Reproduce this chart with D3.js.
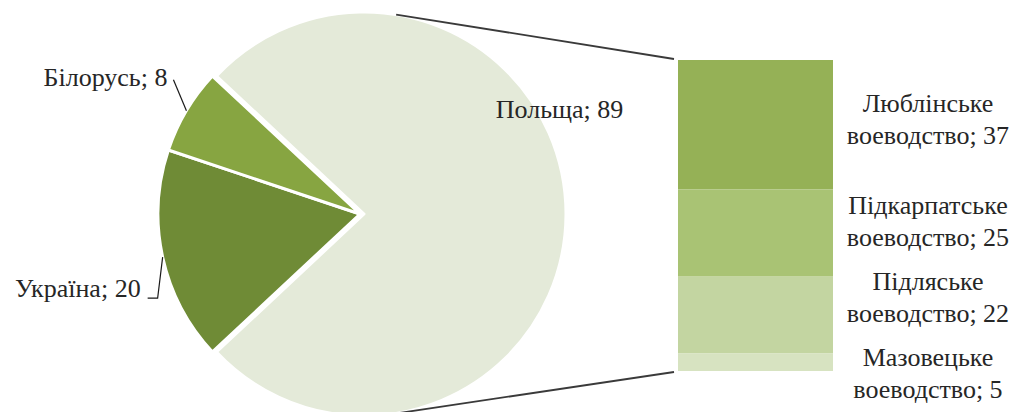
<!DOCTYPE html>
<html>
<head>
<meta charset="utf-8">
<script src="https://cdn.jsdelivr.net/npm/d3@7"></script>
<style>
  body { margin: 0; background: #fff; }
  svg { display: block; }
</style>
</head>
<body>
<svg id="chart" width="1017" height="412"></svg>
<script>
// Pie: countries (Польща is split out into the bar on the right)
const countries = ["Польща", "Україна", "Білорусь"];
const countryValues = [89, 20, 8];
const countryColors = ["#e4ead9", "#6f8b36", "#87a541"];

// Bar: regions of Польща
const regionNames = ["Люблінське", "Підкарпатське", "Підляське", "Мазовецьке"];
const regionSuffix = "воеводство";
const regionValues = [37, 25, 22, 5];
const regionColors = ["#95b156", "#a9c374", "#c3d5a1", "#d7e3c1"];

const FONT = "'Liberation Serif', 'Times New Roman', 'DejaVu Serif', serif";

const svg = d3.select("#chart")
  .attr("font-family", FONT)
  .attr("font-size", 26);

// ---- pie ----
const cx = 360, cy = 214, r = 202, explode = 4;
const total = d3.sum(countryValues);
const splitSpan = 2 * Math.PI * countryValues[0] / total;
const start = Math.PI / 2 - splitSpan / 2;   // split slice faces the bar

const pie = d3.pie().sort(null).value(d => d)
  .startAngle(start).endAngle(start + 2 * Math.PI);
const arcs = pie(countryValues);
const arc = d3.arc().innerRadius(0).outerRadius(r);

const gPie = svg.append("g").attr("transform", `translate(${cx},${cy})`);
gPie.selectAll("path").data(arcs).join("path")
  .attr("d", arc)
  .attr("fill", (d, i) => countryColors[i])
  .attr("stroke", "#fff")
  .attr("stroke-width", 3)
  .attr("stroke-linejoin", "round")
  .attr("transform", (d, i) => {
    if (i !== 0) return null;
    const m = (d.startAngle + d.endAngle) / 2;
    return `translate(${explode * Math.sin(m)},${-explode * Math.cos(m)})`;
  });

const polar = (a, rad) => [cx + rad * Math.sin(a), cy - rad * Math.cos(a)];

// ---- bar ----
const barX = 678, barW = 155, barTop = 60, barBottom = 371;
const y = d3.scaleLinear().domain([0, d3.sum(regionValues)]).range([barTop, barBottom]);
const cum = d3.cumsum(regionValues);
const segs = regionValues.map((v, i) => ({ v, i, y0: cum[i] - v, y1: cum[i] }));

svg.append("g").selectAll("rect").data(segs).join("rect")
  .attr("x", barX).attr("width", barW)
  .attr("y", d => y(d.y0))
  .attr("height", d => y(d.y1) - y(d.y0))
  .attr("fill", d => regionColors[d.i]);

// ---- series lines: tangents from bar corners to the split slice ----
const sm = (arcs[0].startAngle + arcs[0].endAngle) / 2;
const scx = cx + explode * Math.sin(sm), scy = cy - explode * Math.cos(sm);
function tangent(px, py, sign) {
  const dx = px - scx, dy = py - scy;
  const d = Math.hypot(dx, dy);
  const th = Math.atan2(dy, dx);
  const al = Math.acos(r / d);
  const t = th + sign * al;
  return [scx + r * Math.cos(t), scy + r * Math.sin(t)];
}
const sumRegions = d3.sum(regionValues);
const topT = tangent(barX, y(0), -1);
const botT = tangent(barX, y(sumRegions), 1);
svg.append("g").attr("stroke", "#3a3a3a").attr("stroke-width", 1.8).attr("fill", "none")
  .selectAll("line").data([[topT, [barX - 4, y(0) - 1]], [botT, [barX - 4, y(sumRegions) + 1]]])
  .join("line")
  .attr("x1", d => d[0][0]).attr("y1", d => d[0][1])
  .attr("x2", d => d[1][0]).attr("y2", d => d[1][1]);

// ---- bar labels: centred on segments, pushed apart where they collide ----
const labelX = 928, minGap = 76;
const centers = segs.map(d => (y(d.y0) + y(d.y1)) / 2);
for (let it = 0; it < 200; it++) {
  for (let i = 0; i < centers.length - 1; i++) {
    const gap = centers[i + 1] - centers[i];
    if (gap < minGap) {
      const push = (minGap - gap) / 2;
      centers[i] -= push;
      centers[i + 1] += push;
    }
  }
}
const barLabels = svg.append("g").attr("text-anchor", "middle").attr("fill", "#262626");
segs.forEach((d, i) => {
  const t = barLabels.append("text").attr("x", labelX);
  t.append("tspan").attr("x", labelX).attr("y", centers[i] - 13).text(regionNames[i]);
  t.append("tspan").attr("x", labelX).attr("y", centers[i] + 19).text(`${regionSuffix}; ${d.v}`);
});

// ---- pie labels ----
const gLab = svg.append("g").attr("fill", "#262626");
// Польща
const pPos = polar(62.5 * Math.PI / 180, 225);
gLab.append("text").attr("x", pPos[0]).attr("y", pPos[1] + 8)
  .attr("text-anchor", "middle").text(`${countries[0]}; ${countryValues[0]}`);

// Білорусь
const bMid = (arcs[2].startAngle + arcs[2].endAngle) / 2;
const bPt = polar(bMid, r);
gLab.append("path")
  .attr("d", d3.line()([bPt, [bPt[0] - 13, bPt[1] - 31]]))
  .attr("stroke", "#1a1a1a").attr("stroke-width", 1.2).attr("fill", "none");
gLab.append("text").attr("x", bPt[0] - 19).attr("y", bPt[1] - 25)
  .attr("text-anchor", "end").text(`${countries[2]}; ${countryValues[2]}`);

// Україна
const uMid = (arcs[1].startAngle + arcs[1].endAngle) / 2;
const uPt = polar(uMid, r);
gLab.append("path")
  .attr("d", d3.line()([uPt, [uPt[0] - 5, uPt[1] + 41], [uPt[0] - 15, uPt[1] + 41]]))
  .attr("stroke", "#1a1a1a").attr("stroke-width", 1.2).attr("fill", "none");
gLab.append("text").attr("x", uPt[0] - 22).attr("y", uPt[1] + 40)
  .attr("text-anchor", "end").text(`${countries[1]}; ${countryValues[1]}`);
</script>
</body>
</html>
